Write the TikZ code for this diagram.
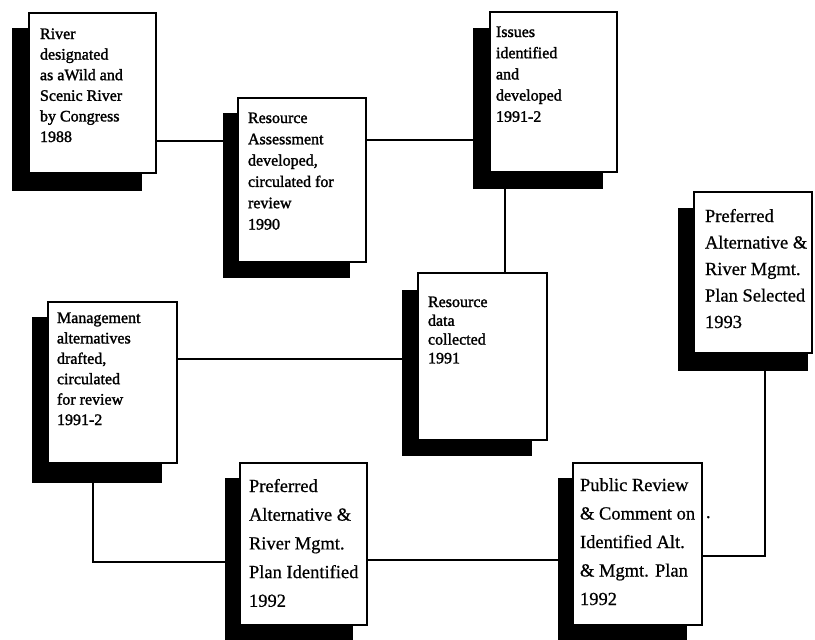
\documentclass[tikz,border=0pt]{standalone}
\usepackage{fontspec}
\setmainfont{Liberation Serif}
\newfontfamily\heavyserif{Liberation Serif}[FakeBold=1.6]
\newfontfamily\midserif{Liberation Serif}[FakeBold=0.7]
\newcommand\cardtxt[4]{\parbox[t]{150pt}{#1\fontsize{#2}{#3}\selectfont #4}}
\tikzset{
  wcard/.style={draw=black, line width=1.2pt, fill=white, inner sep=0pt, outer sep=0pt, anchor=north west},
  scard/.style={fill=black, draw=none, inner sep=0pt, outer sep=0pt, anchor=north west},
  conn/.style={draw=black, line width=1.3pt},
  ctext/.style={anchor=base west, inner sep=0pt, outer sep=0pt},
}
\begin{document}
\begin{tikzpicture}[x=1pt,y=-1pt]
\useasboundingbox[fill=white] (0,0) rectangle (815,640);
% shadows
\node[scard, minimum width=130pt, minimum height=163pt] (s1) at (12,28) {};
\node[scard, minimum width=127pt, minimum height=165pt] (s2) at (223,113) {};
\node[scard, minimum width=130pt, minimum height=161pt] (s3) at (473,28) {};
\node[scard, minimum width=130pt, minimum height=166pt] (s4) at (402,290) {};
\node[scard, minimum width=130pt, minimum height=166pt] (s5) at (32,317) {};
\node[scard, minimum width=130pt, minimum height=163pt] (s6) at (678,208) {};
\node[scard, minimum width=128pt, minimum height=162pt] (s7) at (225,478) {};
\node[scard, minimum width=129pt, minimum height=162pt] (s8) at (558,478) {};
% white cards
\node[wcard, minimum width=127pt, minimum height=160pt] (b1) at (29,13) {};
\node[wcard, minimum width=128pt, minimum height=164pt] (b2) at (238,98) {};
\node[wcard, minimum width=127pt, minimum height=160pt] (b3) at (490,12) {};
\node[wcard, minimum width=129pt, minimum height=167pt] (b4) at (418,273) {};
\node[wcard, minimum width=129pt, minimum height=161pt] (b5) at (48,302) {};
\node[wcard, minimum width=118pt, minimum height=161pt] (b6) at (694,192) {};
\node[wcard, minimum width=127pt, minimum height=162pt] (b7) at (240,463) {};
\node[wcard, minimum width=129pt, minimum height=162pt] (b8) at (573,463) {};
% texts
\node[ctext] (t1) at (40,39) {\cardtxt{\heavyserif}{16}{20.6}{River\\designated\\as aWild and\\Scenic River\\by Congress\\1988}};
\node[ctext] (t2) at (248,123) {\cardtxt{\heavyserif}{16}{21.3}{Resource\\Assessment\\developed,\\circulated for\\review\\1990}};
\node[ctext] (t3) at (496,37) {\cardtxt{\heavyserif}{16}{21.2}{Issues\\identified\\and\\developed\\1991-2}};
\node[ctext] (t4) at (428,307) {\cardtxt{\heavyserif}{16}{18.8}{Resource\\data\\collected\\1991}};
\node[ctext] (t5) at (57,323) {\cardtxt{\heavyserif}{16}{20.4}{Management\\alternatives\\drafted,\\circulated\\for review\\1991-2}};
\node[ctext] (t6) at (705,222) {\cardtxt{\midserif}{18.5}{26.5}{Preferred\\Alternative \&\\River Mgmt.\\Plan Selected\\1993}};
\node[ctext] (t7) at (249,492) {\cardtxt{\midserif}{18.5}{28.7}{Preferred\\Alternative \&\\River Mgmt.\\Plan Identified\\1992}};
\node[ctext] (t8) at (580,491) {\cardtxt{\midserif}{18.5}{28.5}{Public Review\\\& Comment on\\Identified Alt.\\\& Mgmt. Plan\\1992}};
\node[ctext] (dot) at (706,518) {\midserif\fontsize{18.5}{20}\selectfont .};
% connector levels
\coordinate (y12) at (0,141);
\coordinate (y23) at (0,140);
\coordinate (x34) at (505,0);
\coordinate (y54) at (0,359);
\coordinate (x57) at (93,0);
\coordinate (y57) at (0,562);
\coordinate (y78) at (0,560);
\coordinate (y86) at (0,556);
\coordinate (x86) at (765,0);
% connectors
\draw[conn] (b1.east |- y12) -- (s2.west |- y12);
\draw[conn] (b2.east |- y23) -- (s3.west |- y23);
\draw[conn] (x34 |- s3.south) -- (x34 |- b4.north);
\draw[conn] (b5.east |- y54) -- (s4.west |- y54);
\draw[conn] (x57 |- s5.south) -- (x57 |- y57) -- (s7.west |- y57);
\draw[conn] (b7.east |- y78) -- (s8.west |- y78);
\draw[conn] (b8.east |- y86) -- (x86 |- y86) -- (x86 |- s6.south);
\end{tikzpicture}
\end{document}
